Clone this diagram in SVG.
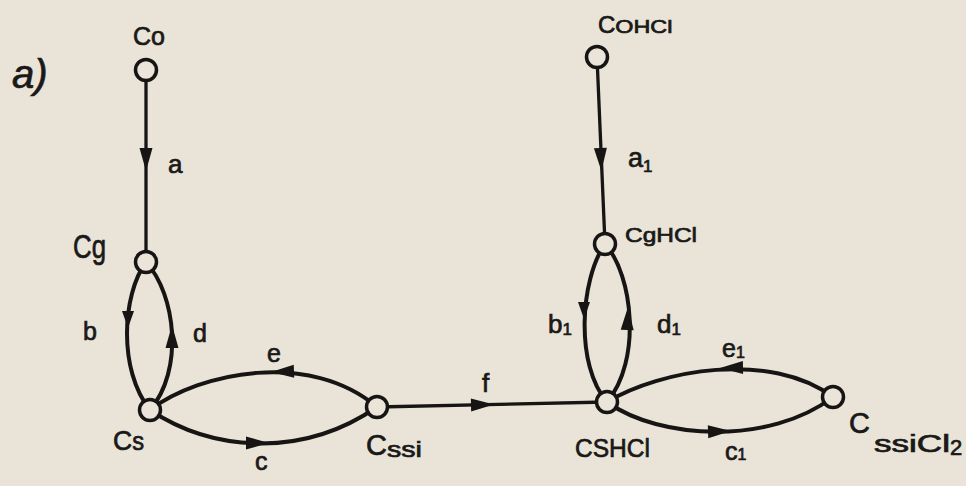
<svg xmlns="http://www.w3.org/2000/svg" xmlns:xlink="http://www.w3.org/1999/xlink" width="966" height="486" viewBox="0 0 966 486">
<style>
.edge{fill:none;stroke:#161514;stroke-width:4;stroke-linecap:round}
.straight{stroke-width:3.3}
.node{fill:#EAE5D8;stroke:#161514;stroke-width:3.5}
.lbl{font-family:"Liberation Sans","DejaVu Sans",sans-serif;fill:#1a1918;stroke:#1a1918;stroke-width:0.7}
.ah{fill:#161514}
</style>
<defs>
<path id="ah" d="M0,0 L-23,-6.5 L-23,6.5 Z"/>
<path id="ahs" d="M0,0 L-17,-6 L-17,6 Z"/>
</defs>
<rect width="966" height="486" fill="#E9E4D7"/>
<text class="lbl" x="12" y="88" font-size="40" font-style="italic" stroke-width="0.4">a)</text>
<g id="connectors">
<path class="edge straight" d="M146,70 L146,262"/>
<path class="edge" d="M146,262 C122,295 118,370 150,410"/>
<path class="edge" d="M146,262 C176,295 184,370 150,410"/>
<path class="edge" d="M150,410 C200,372 310,350 377,407"/>
<path class="edge" d="M150,410 C210,450 300,460 377,407"/>
<path class="edge straight" d="M377,407 L607,402"/>
<path class="edge straight" d="M597,57 L605,244"/>
<path class="edge" d="M605,244 C580,280 575,365 607,402"/>
<path class="edge" d="M605,244 C633,275 642,360 607,402"/>
<path class="edge" d="M607,402 C660,370 770,350 833,397"/>
<path class="edge" d="M607,402 C660,440 770,445 833,397"/>
<use class="ah" href="#ah" transform="translate(146,171) rotate(90)"/>
<use class="ah" href="#ahs" transform="translate(128,328) rotate(90)"/>
<use class="ah" href="#ah" transform="translate(172,325) rotate(-90)"/>
<use class="ah" href="#ah" transform="translate(271,372) rotate(178)"/>
<use class="ah" href="#ah" transform="translate(269,443) rotate(0)"/>
<use class="ah" href="#ah" transform="translate(494,404.5) rotate(-1.2)"/>
<use class="ah" href="#ah" transform="translate(601.4,171) rotate(87.5)"/>
<use class="ah" href="#ahs" transform="translate(584,319) rotate(90)"/>
<use class="ah" href="#ah" transform="translate(628,307) rotate(-88)"/>
<use class="ah" href="#ah" transform="translate(720,368) rotate(179)"/>
<use class="ah" href="#ah" transform="translate(731,431) rotate(-2)"/>
</g>
<g class="lbl">
<text x="168" y="173" font-size="26">a</text>
<text x="83" y="340" font-size="25">b</text>
<text x="193" y="342" font-size="25">d</text>
<text x="267" y="362" font-size="25">e</text>
<text x="255" y="470" font-size="25">c</text>
<text x="482" y="392" font-size="26">f</text>
<text x="628" y="167" font-size="27">a<tspan font-size="17" dy="5">1</tspan></text>
<text x="548" y="333" font-size="26">b<tspan font-size="17" dy="2">1</tspan></text>
<text x="657" y="333" font-size="26">d<tspan font-size="17" dy="2">1</tspan></text>
<text x="722" y="357" font-size="25">e<tspan font-size="16" dy="1">1</tspan></text>
<text x="725" y="460" font-size="25">c<tspan font-size="16">1</tspan></text>
</g>
<g id="n-co"><circle class="node" cx="146" cy="70" r="10.5"/><text class="lbl" x="133" y="45" font-size="25">Co</text></g>
<g id="n-cg"><circle class="node" cx="146" cy="262" r="10.5"/><text class="lbl" x="73" y="258" font-size="33" textLength="33" lengthAdjust="spacingAndGlyphs">Cg</text></g>
<g id="n-cs"><circle class="node" cx="150" cy="410" r="10.5"/><text class="lbl" x="113" y="450" font-size="28" textLength="31" lengthAdjust="spacingAndGlyphs">C<tspan font-size="25">s</tspan></text></g>
<g id="n-cssi"><circle class="node" cx="377" cy="407" r="10.5"/><text class="lbl" x="366" y="455" font-size="29">C<tspan font-size="22" dy="2" textLength="35" lengthAdjust="spacingAndGlyphs">ssi</tspan></text></g>
<g id="n-cohcl"><circle class="node" cx="597" cy="57" r="10.5"/><text class="lbl" x="598" y="33" font-size="24">C<tspan font-size="18" textLength="57" lengthAdjust="spacingAndGlyphs">OHCl</tspan></text></g>
<g id="n-cghcl"><circle class="node" cx="605" cy="244" r="10.5"/><text class="lbl" x="625" y="242" font-size="21" textLength="72" lengthAdjust="spacingAndGlyphs">CgHCl</text></g>
<g id="n-cshcl"><circle class="node" cx="607" cy="402" r="10.5"/><text class="lbl" x="575" y="457" font-size="25" textLength="75" lengthAdjust="spacingAndGlyphs">CSHCl</text></g>
<g id="n-cssicl2"><circle class="node" cx="833" cy="397" r="10.5"/><text class="lbl" x="849" y="433" font-size="29">C<tspan font-size="23" dy="19" dx="4" textLength="76" lengthAdjust="spacingAndGlyphs">ssiCl</tspan><tspan font-size="22" dy="3">2</tspan></text></g>
</svg>
